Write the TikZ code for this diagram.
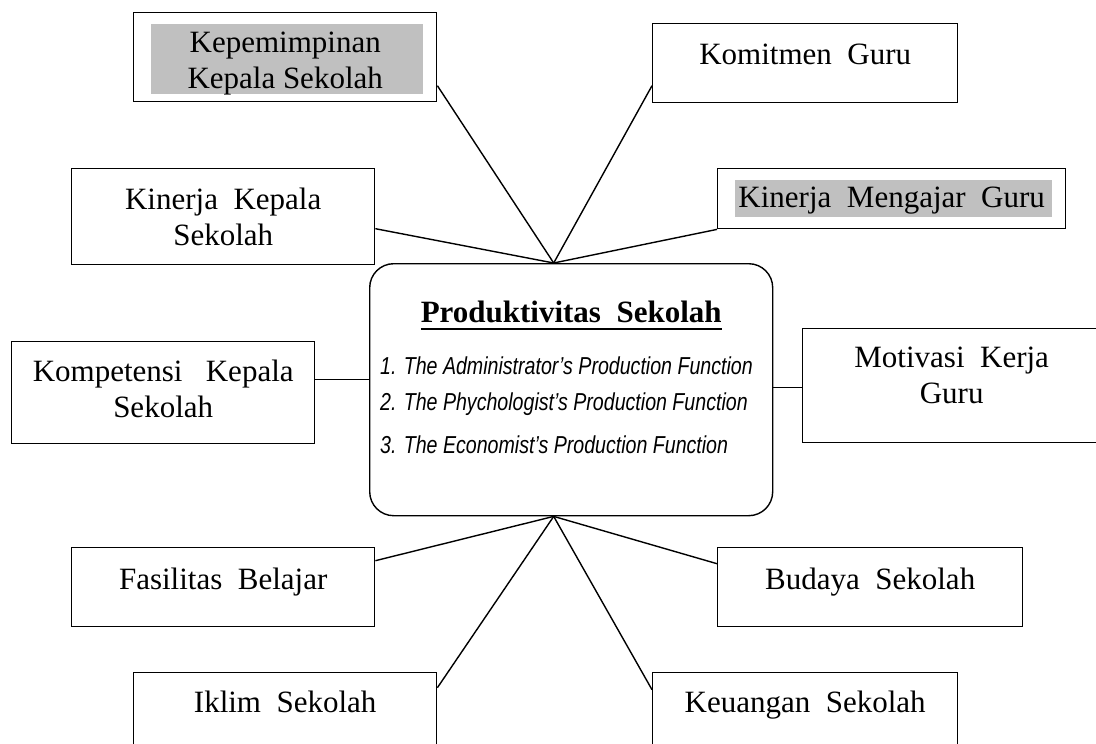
\documentclass[tikz,border=0pt]{standalone}
\usepackage{fontspec}
\setmainfont{Liberation Serif}
\newfontfamily\fungsifont[FakeStretch=0.8]{Liberation Sans}
\usetikzlibrary{backgrounds}
\definecolor{sorotabu}{RGB}{192, 192, 192}
\newsavebox{\judulbox}
\newcommand{\garisbawah}[1]{\sbox{\judulbox}{#1}\rlap{\rule[-7.5pt]{\wd\judulbox}{2.5pt}}\usebox{\judulbox}}

\tikzset{
  kotak/.style={draw, rectangle, line width=1.4pt, inner sep=0pt, anchor=north west, align=center, font=\fontsize{31}{36}\selectfont},
  pusatkotak/.style={kotak, rounded corners=24pt},
  butir/.style={inner sep=0pt, anchor=base west, font=\fungsifont\itshape\fontsize{24.5}{28}\selectfont},
  garis/.style={line width=1.4pt}
}

\begin{document}
\begin{tikzpicture}[x=1pt, y=-1pt]
            \useasboundingbox (0,0) rectangle (1096,744);

            % Kotak tengah
            \node[pusatkotak, minimum width=403pt, text height=59pt, text depth=193pt] (pusat) at (369,263) {\garisbawah{\textbf{Produktivitas\ \ Sekolah}}};
            \node[butir] (fungsi1) at (380,374) {1. The Administrator’s Production Function};
            \node[butir] (fungsi2) at (380,410) {2. The Phychologist’s Production Function};
            \node[butir] (fungsi3) at (380,453) {3. The Economist’s Production Function};

            % Kotak faktor
            \node[kotak, minimum width=303pt, text height=76pt, text depth=13pt] (kepemimpinan) at (133,12) {Kepemimpinan\\Kepala Sekolah};
            \node[kotak, minimum width=305pt, text height=41pt, text depth=38pt] (komitmen) at (652,23) {Komitmen\ \ Guru};
            \node[kotak, minimum width=303pt, text height=77pt, text depth=19pt] (kinerjaks) at (71,168) {Kinerja\ \ Kepala\\Sekolah};
            \node[kotak, minimum width=348pt, text height=39pt, text depth=21pt] (kinerjamg) at (717,168) {Kinerja\ \ Mengajar\ \ Guru};
            \node[kotak, minimum width=303pt, text height=76pt, text depth=26pt] (kompetensi) at (11,341) {Kompetensi\ \ \ Kepala\\Sekolah};
            \node[kotak, minimum width=298pt, text height=75pt, text depth=39pt] (motivasi) at (802,328) {Motivasi\ \ Kerja\\Guru};
            \node[kotak, minimum width=303pt, text height=42pt, text depth=37pt] (fasilitas) at (71,547) {Fasilitas\ \ Belajar};
            \node[kotak, minimum width=305pt, text height=42pt, text depth=37pt] (budaya) at (717,547) {Budaya\ \ Sekolah};
            \node[kotak, minimum width=303pt, text height=40pt, text depth=48pt] (iklim) at (133,672) {Iklim\ \ Sekolah};
            \node[kotak, minimum width=305pt, text height=40pt, text depth=48pt] (keuangan) at (652,672) {Keuangan\ \ Sekolah};

            % Sorotan abu-abu
            \begin{scope}[on background layer]
              \fill[sorotabu] ([xshift=18pt, yshift=-12pt]kepemimpinan.north west) rectangle ([xshift=-14pt, yshift=8pt]kepemimpinan.south east);
              \fill[sorotabu] ([xshift=18pt, yshift=-12pt]kinerjamg.north west) rectangle ([xshift=-14pt, yshift=12pt]kinerjamg.south east);
            \end{scope}

            % Titik temu garis
            \coordinate (atas) at ([xshift=-17.5pt]pusat.north);
            \coordinate (bawah) at ([xshift=-17.5pt]pusat.south);

            % Garis penghubung
            \draw[garis] ([yshift=-28.5pt]kepemimpinan.east) -- (atas);
            \draw[garis] ([yshift=-22.5pt]komitmen.west) -- (atas);
            \draw[garis] ([yshift=-12pt]kinerjaks.east) -- (atas);
            \draw[garis] (kinerjamg.south west) -- (atas);
            \draw[garis] ([yshift=13pt]kompetensi.east) -- ([yshift=13pt]kompetensi.east -| pusat.west);
            \draw[garis] ([yshift=-2pt]motivasi.west) -- ([yshift=-2pt]motivasi.west -| pusat.east);
            \draw[garis] ([yshift=26.5pt]fasilitas.east) -- (bawah);
            \draw[garis] ([yshift=23.5pt]budaya.west) -- (bawah);
            \draw[garis] ([yshift=29pt]iklim.east) -- (bawah);
            \draw[garis] ([yshift=27pt]keuangan.west) -- (bawah);
\end{tikzpicture}
\end{document}
